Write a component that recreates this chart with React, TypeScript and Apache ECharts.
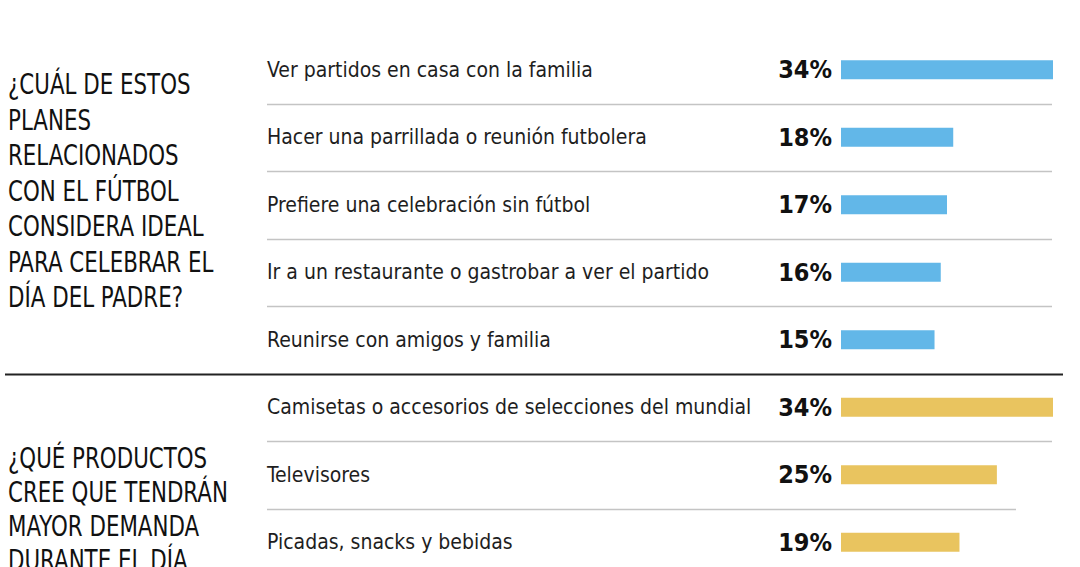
import React, { useEffect, useRef } from "react";
import * as echarts from "echarts";

const categories = [
  "Ver partidos en casa con la familia",
  "Hacer una parrillada o reunión futbolera",
  "Prefiere una celebración sin fútbol",
  "Ir a un restaurante o gastrobar a ver el partido",
  "Reunirse con amigos y familia",
  "Camisetas o accesorios de selecciones del mundial",
  "Televisores",
  "Picadas, snacks y bebidas",
];
const values = [34, 18, 17, 16, 15, 34, 25, 19];
const groups = [0, 0, 0, 0, 0, 1, 1, 1];
const groupColors = ["#62b7e8", "#e9c45f"];
const questions = [
  "¿CUÁL DE ESTOS\nPLANES\nRELACIONADOS\nCON EL FÚTBOL\nCONSIDERA IDEAL\nPARA CELEBRAR EL\nDÍA DEL PADRE?",
  "¿QUÉ PRODUCTOS\nCREE QUE TENDRÁN\nMAYOR DEMANDA\nDURANTE EL DÍA\nDEL PADRE?",
];

const FONT = "'Liberation Sans Narrow', 'DejaVu Sans Condensed', 'Noto Sans', sans-serif";

export default function App() {
  const ref = useRef<HTMLDivElement>(null);
  useEffect(() => {
    document.body.style.margin = "0";
    const chart = echarts.init(ref.current!, null, { renderer: "svg" });
    chart.setOption({
      animation: false,
      backgroundColor: "#ffffff",
      grid: {
        left: 841,
        right: 27,
        top: 36,
        height: 540,
        outerBoundsMode: "none",
      },
      xAxis: { type: "value", min: 0, max: 34, show: false },
      yAxis: {
        type: "category",
        inverse: true,
        data: categories,
        axisLine: { show: false },
        axisTick: { show: false },
        splitLine: { show: false },
        axisLabel: {
          align: "left",
          margin: 574,
          fontSize: 21,
          color: "#1e1e1e",
          fontFamily: FONT,
        },
      },
      series: [
        {
          type: "bar",
          barWidth: 19,
          data: values.map((v, i) => ({
            value: v,
            itemStyle: { color: groupColors[groups[i]] },
          })),
          label: {
            show: true,
            position: "left",
            distance: 9,
            formatter: "{c}%",
            fontSize: 25,
            fontWeight: "bold",
            color: "#111",
            fontFamily: FONT,
          },
        },
      ],
    });

    const yOf = (i: number) => chart.convertToPixel({ yAxisIndex: 0 }, i) as number;
    const lines: any[] = [];
    for (let i = 0; i < categories.length - 1; i++) {
      const y = Math.round((yOf(i) + yOf(i + 1)) / 2) + 0.5;
      if (groups[i] !== groups[i + 1]) {
        lines.push({
          type: "line",
          shape: { x1: 5, y1: y, x2: 1063, y2: y },
          style: { stroke: "#222", lineWidth: 2 },
        });
      } else {
        const x2 = i === categories.length - 2 ? 1016 : 1052;
        lines.push({
          type: "line",
          shape: { x1: 267, y1: y, x2, y2: y },
          style: { stroke: "#c4c4c4", lineWidth: 1.5 },
        });
      }
    }
    chart.setOption({
      graphic: [
        ...lines,
        {
          type: "text",
          x: 8,
          y: 66,
          scaleX: 0.82,
          style: {
            text: questions[0],
            fontSize: 29,
            lineHeight: 35.5,
            fill: "#111",
            fontFamily: FONT,
            verticalAlign: "top",
          },
        },
        {
          type: "text",
          x: 8,
          y: 441,
          scaleX: 0.82,
          style: {
            text: questions[1],
            fontSize: 29,
            lineHeight: 34,
            fill: "#111",
            fontFamily: FONT,
            verticalAlign: "top",
          },
        },
      ],
    });
    return () => chart.dispose();
  }, []);
  return <div ref={ref} style={{ width: 1080, height: 567 }} />;
}
